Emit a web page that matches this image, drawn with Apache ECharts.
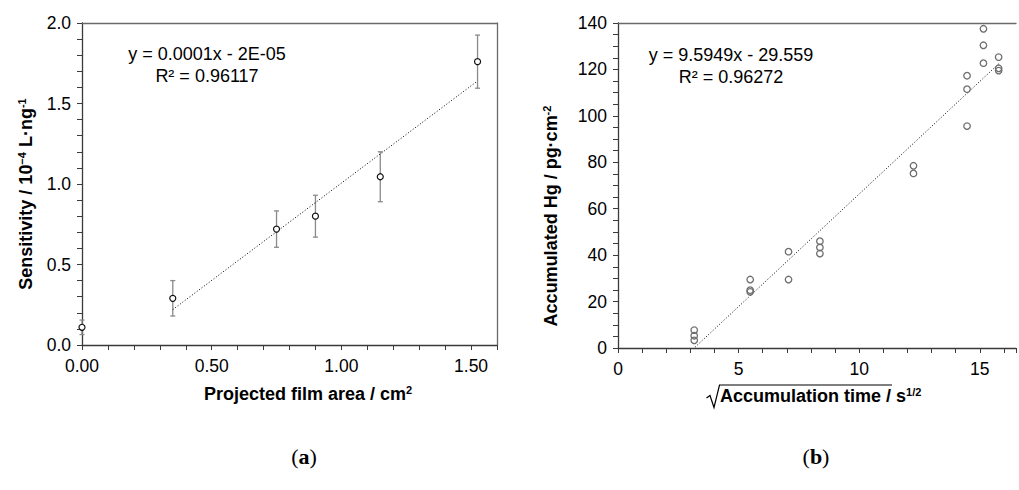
<!DOCTYPE html>
<html>
<head>
<meta charset="utf-8">
<script src="https://cdn.jsdelivr.net/npm/echarts@6/dist/echarts.min.js"></script>
<style>
  html, body { margin: 0; padding: 0; background: #fff; }
  #main { width: 1019px; height: 490px; }
</style>
</head>
<body>
<div id="main"></div>
<script>
// (a) sensitivity vs projected film area
var areaX = [0, 0.35, 0.75, 0.90, 1.15, 1.525];
var sensY = [0.11, 0.29, 0.72, 0.80, 1.045, 1.76];
var sensErr = [0.045, 0.11, 0.113, 0.13, 0.155, 0.165];
var fitAX = [0.35, 1.525];
var fitAY = [0.22, 1.64];

// (b) accumulated Hg vs sqrt(time)
var timeX = [3.16, 3.16, 3.16, 5.48, 5.48, 5.48, 7.07, 7.07, 8.37, 8.37, 8.37,
  12.25, 12.25, 14.47, 14.47, 14.47, 15.15, 15.15, 15.15, 15.78, 15.78, 15.78];
var hgY = [7.7, 5.3, 3.3, 29.5, 24.9, 24.2, 41.5, 29.5, 46.0, 43.3, 40.7,
  78.5, 75.2, 117.3, 111.5, 95.6, 137.5, 130.4, 122.7, 125.3, 120.5, 119.5];
var fitBX = [3.2, 15.8];
var fitBY = [0.4, 122.6];

var FONT = 'Liberation Sans, Arial, sans-serif';
var AXIS_DARK = '#3a3a3a';
var BORDER = '#6a6a6a';

function zip(a, b) {
  return a.map(function (v, i) { return [v, b[i]]; });
}

function everyLabel(step, digits) {
  return function (v) {
    var r = v / step;
    return Math.abs(r - Math.round(r)) < 1e-6 ? v.toFixed(digits) : '';
  };
}

function mainX(gridIndex, max, step, labelStep, digits) {
  return {
    type: 'value', gridIndex: gridIndex, min: 0, max: max, interval: step,
    axisLine: { show: true, onZero: false, lineStyle: { color: AXIS_DARK, width: 1.3 } },
    axisTick: { show: true, length: 5, lineStyle: { color: AXIS_DARK, width: 1 } },
    axisLabel: { margin: 12, color: '#000', fontFamily: FONT, fontSize: 17.5,
      formatter: everyLabel(labelStep, digits), showMaxLabel: true },
    splitLine: { show: false }
  };
}

function mainY(gridIndex, max, step, labelStep, digits) {
  return {
    type: 'value', gridIndex: gridIndex, min: 0, max: max, interval: step,
    axisLine: { show: true, onZero: false, lineStyle: { color: AXIS_DARK, width: 1.3 } },
    axisTick: { show: true, length: 5, lineStyle: { color: AXIS_DARK, width: 1 } },
    axisLabel: { margin: 11, color: '#000', fontFamily: FONT, fontSize: 17.5,
      formatter: everyLabel(labelStep, digits) },
    splitLine: { show: false }
  };
}

function borderAxis(gridIndex, max, pos) {
  return {
    type: 'value', gridIndex: gridIndex, min: 0, max: max, position: pos,
    axisLine: { show: true, onZero: false, lineStyle: { color: BORDER, width: 1.3 } },
    axisTick: { show: false }, axisLabel: { show: false }, splitLine: { show: false }
  };
}

var chart = echarts.init(document.getElementById('main'), null, { renderer: 'svg' });

var titleRich = {
  b: { fontFamily: FONT, fontSize: 18, fontWeight: 'bold', lineHeight: 20 },
  s: { fontFamily: FONT, fontSize: 11, fontWeight: 'bold', verticalAlign: 'top', lineHeight: 20 }
};
var panelRich = {
  p: { fontFamily: 'Liberation Serif, serif', fontSize: 22 },
  a: { fontFamily: 'Liberation Serif, serif', fontSize: 22, fontWeight: 'bold' }
};

var option = {
  animation: false,
  backgroundColor: '#fff',
  grid: [
    { left: 82, top: 23, right: 522, bottom: 145 },
    { left: 618, top: 23, right: 0, bottom: 142 }
  ],
  xAxis: [
    mainX(0, 1.6, 0.1, 0.5, 2),
    borderAxis(0, 1.6, 'top'),
    mainX(1, 16.5, 1, 5, 0),
    borderAxis(1, 16.5, 'top')
  ],
  yAxis: [
    mainY(0, 2.0, 0.1, 0.5, 1),
    borderAxis(0, 2.0, 'right'),
    mainY(1, 140, 5, 20, 0)
  ],
  series: [
    {
      type: 'custom',
      xAxisIndex: 0, yAxisIndex: 0,
      data: areaX.map(function (x, i) { return [x, sensY[i], sensErr[i]]; }),
      renderItem: function (params, api) {
        var x = api.value(0), y = api.value(1), e = api.value(2);
        var hi = api.coord([x, y + e]);
        var lo = api.coord([x, y - e]);
        var style = { stroke: '#8a8a8a', lineWidth: 1.3 };
        return {
          type: 'group',
          children: [
            { type: 'line', shape: { x1: hi[0], y1: hi[1], x2: lo[0], y2: lo[1] }, style: style },
            { type: 'line', shape: { x1: hi[0] - 2.5, y1: hi[1], x2: hi[0] + 2.5, y2: hi[1] }, style: style },
            { type: 'line', shape: { x1: lo[0] - 2.5, y1: lo[1], x2: lo[0] + 2.5, y2: lo[1] }, style: style }
          ]
        };
      },
      z: 1
    },
    {
      type: 'line',
      xAxisIndex: 0, yAxisIndex: 0,
      data: zip(fitAX, fitAY),
      showSymbol: false, symbol: 'none',
      lineStyle: { color: '#000', width: 1, type: [1, 2] },
      z: 2
    },
    {
      type: 'scatter',
      xAxisIndex: 0, yAxisIndex: 0,
      data: zip(areaX, sensY),
      symbol: 'circle', symbolSize: 6,
      itemStyle: { color: '#fff', borderColor: '#111', borderWidth: 1.2, opacity: 1 },
      z: 3
    },
    {
      type: 'line',
      xAxisIndex: 2, yAxisIndex: 2,
      data: zip(fitBX, fitBY),
      showSymbol: false, symbol: 'none',
      lineStyle: { color: '#000', width: 1, type: [1, 2] },
      z: 2
    },
    {
      type: 'scatter',
      xAxisIndex: 2, yAxisIndex: 2,
      data: zip(timeX, hgY),
      symbol: 'circle', symbolSize: 6.5,
      itemStyle: { color: 'rgba(255,255,255,0)', borderColor: '#6e6e6e', borderWidth: 1.3, opacity: 1 },
      z: 3
    }
  ],
  graphic: [
    // regression text (a)
    {
      type: 'text', x: 207, y: 65,
      style: { text: 'y = 0.0001x - 2E-05\nR² = 0.96117', font: '18px ' + FONT, fill: '#000',
        align: 'center', verticalAlign: 'middle', lineHeight: 22 }
    },
    // regression text (b)
    {
      type: 'text', x: 731, y: 66,
      style: { text: 'y = 9.5949x - 29.559\nR² = 0.96272', font: '18px ' + FONT, fill: '#000',
        align: 'center', verticalAlign: 'middle', lineHeight: 22 }
    },
    // y title (a)
    {
      type: 'text', x: 26, y: 194, rotation: Math.PI / 2,
      style: {
        text: '{b|Sensitivity / 10}{s|−4}{b| L·ng}{s|-1}',
        align: 'center', verticalAlign: 'middle', fill: '#000', rich: titleRich
      }
    },
    // y title (b)
    {
      type: 'text', x: 551, y: 216, rotation: Math.PI / 2,
      style: {
        text: '{b|Accumulated Hg / pg·cm}{s|-2}',
        align: 'center', verticalAlign: 'middle', fill: '#000', rich: titleRich
      }
    },
    // x title (a)
    {
      type: 'text', x: 308, y: 394,
      style: {
        text: '{b|Projected film area / cm}{s|2}',
        align: 'center', verticalAlign: 'middle', fill: '#000', rich: titleRich
      }
    },
    // x title (b) with radical sign
    {
      type: 'polyline',
      shape: { points: [[706.5, 398], [710, 395.5], [714, 407.5], [719.5, 385], [892, 385]] },
      style: { stroke: '#000', lineWidth: 1.2, fill: null }
    },
    {
      type: 'text', x: 720, y: 396,
      style: {
        text: '{b|Accumulation time / s}{s|1/2}',
        align: 'left', verticalAlign: 'middle', fill: '#000', rich: titleRich
      }
    },
    // panel labels
    {
      type: 'text', x: 304, y: 456,
      style: { text: '{p|(}{a|a}{p|)}', align: 'center', verticalAlign: 'middle', fill: '#000', rich: panelRich }
    },
    {
      type: 'text', x: 816, y: 456,
      style: { text: '{p|(}{a|b}{p|)}', align: 'center', verticalAlign: 'middle', fill: '#000', rich: panelRich }
    }
  ]
};

chart.setOption(option);
</script>
</body>
</html>
